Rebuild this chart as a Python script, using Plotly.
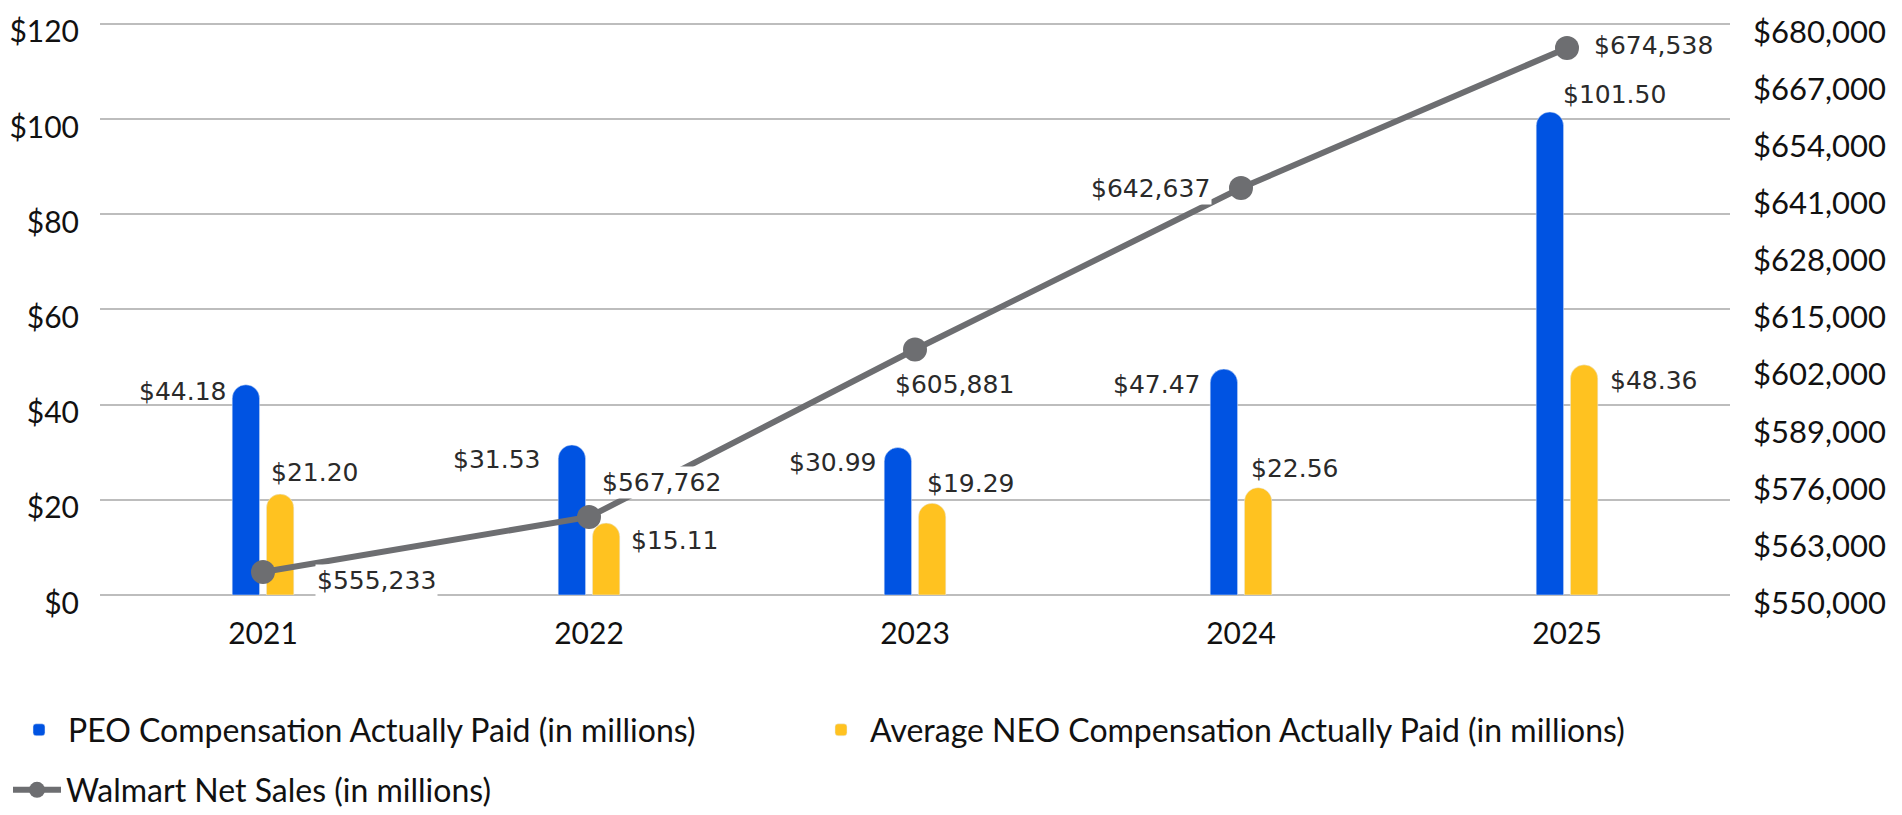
import plotly.graph_objects as go

# ---------------- data ----------------
years = [2021, 2022, 2023, 2024, 2025]
peo_cap = [44.18, 31.53, 30.99, 47.47, 101.50]
neo_cap = [21.20, 15.11, 19.29, 22.56, 48.36]
net_sales = [555233, 567762, 605881, 642637, 674538]
left_tickvals = [0, 20, 40, 60, 80, 100, 120]
right_tickvals = [550000, 563000, 576000, 589000, 602000, 615000, 628000,
                  641000, 654000, 667000, 680000]

names = ["PEO Compensation Actually Paid (in millions)",
         "Average NEO Compensation Actually Paid (in millions)",
         "Walmart Net Sales (in millions)"]

left_ticktext = [f"${v}" for v in left_tickvals]
right_ticktext = [f"${v:,}" for v in right_tickvals]
year_text = [str(v) for v in years]

# ---------------- styles ----------------
BLUE = "#0053e2"
YELLOW = "#ffc220"
GRAY = "#6d6e71"
GRID = "#bdbdbd"
TXT = "#111111"
LABEL_FONT = dict(family="DejaVu Sans", size=25, color="#2a2a2a")
LEG_FONT = dict(family="Lato", size=32, color=TXT)
W, H = 1902, 815

# axis ranges (small head-room so the top gridline is drawn)
y_lo, y_hi = 0, 120
head = 0.4
y_range = [y_lo, y_hi + head]
y2_lo, y2_hi = 550000, 680000
y2_range = [y2_lo, y2_lo + (y2_hi - y2_lo) * (y_hi + head - y_lo) / (y_hi - y_lo)]

# label placement (pixel offsets from category centre / value)
peo_lab = [(-35, -7, "right"), (-47, -15, "right"), (-37, -15, "right"),
           (-39, -15, "right"), (-6, 17, "left")]
neo_lab = [(6, 22, "left"), (40, -17, "left"), (10, 20, "left"),
           (8, 19, "left"), (41, -16, "left")]
sal_lab = [(52, -8, "left"), (11, 34, "left"), (-22, -35, "left"),
           (-29, 0, "right"), (25, 2, "left")]

fig = go.Figure()
fig.add_trace(go.Bar(x=years, y=peo_cap, name=names[0], marker_color=BLUE,
                     legend="legend", showlegend=True))
fig.add_trace(go.Bar(x=years, y=neo_cap, name=names[1], marker_color=YELLOW,
                     legend="legend2", showlegend=True))
fig.add_trace(go.Scatter(x=years, y=net_sales, name=names[2], yaxis="y2",
                         mode="lines+markers",
                         line=dict(color=GRAY, width=6),
                         marker=dict(color=GRAY, size=24),
                         legend="legend3", showlegend=True))

ann = []
for i, yr in enumerate(years):
    dx, dy, xa = peo_lab[i]
    ann.append(dict(x=yr, y=peo_cap[i], xref="x", yref="y", text=f"${peo_cap[i]:.2f}",
                    showarrow=False, xanchor=xa, yanchor="middle",
                    xshift=dx, yshift=dy, font=LABEL_FONT))
    dx, dy, xa = neo_lab[i]
    ann.append(dict(x=yr, y=neo_cap[i], xref="x", yref="y", text=f"${neo_cap[i]:.2f}",
                    showarrow=False, xanchor=xa, yanchor="middle",
                    xshift=dx, yshift=dy, font=LABEL_FONT))
    dx, dy, xa = sal_lab[i]
    ann.append(dict(x=yr, y=net_sales[i], xref="x", yref="y2", text=f"${net_sales[i]:,}",
                    showarrow=False, xanchor=xa, yanchor="middle",
                    xshift=dx, yshift=dy, font=LABEL_FONT, bgcolor="white"))


def leg(xpx, ypx):
    return dict(orientation="h", xref="container", yref="container",
                x=xpx / W, y=1 - ypx / H, xanchor="left", yanchor="middle",
                itemwidth=48, font=LEG_FONT, bgcolor="rgba(0,0,0,0)",
                visible=True)


fig.update_layout(
    width=W, height=H,
    showlegend=True,
    margin=dict(l=92, r=180, t=14, b=228, autoexpand=False),
    plot_bgcolor="white", paper_bgcolor="white",
    barmode="group", bargap=0.79, bargroupgap=0.2,
    barcornerradius=14,
    font=dict(family="Lato", size=30, color=TXT),
    xaxis=dict(type="linear", range=[years[0] - 0.5, years[-1] + 0.5],
               tickvals=years, ticktext=year_text, automargin=False,
               showgrid=False, showline=False, zeroline=False, ticks="",
               ticklabelstandoff=18,
               tickfont=dict(family="Lato", size=30, color=TXT)),
    yaxis=dict(range=y_range, tickvals=left_tickvals, ticktext=left_ticktext,
               automargin=False,
               showgrid=True, gridcolor=GRID, gridwidth=2,
               zeroline=True, zerolinecolor=GRID, zerolinewidth=2,
               showline=False, ticks="", ticklabelstandoff=20,
               ticklabelshift=8,
               tickfont=dict(family="Lato", size=30, color=TXT)),
    yaxis2=dict(range=y2_range, tickvals=right_tickvals,
                ticktext=right_ticktext, automargin=False,
                overlaying="y", side="right", showgrid=False,
                zeroline=False, showline=False, ticks="", ticklabelstandoff=22,
                ticklabelshift=8,
                tickfont=dict(family="Lato", size=31, color=TXT)),
    legend=leg(2, 722),
    legend2=leg(804, 722),
    legend3=leg(0, 782),
    annotations=ann,
)

fig.write_html("out.html")
